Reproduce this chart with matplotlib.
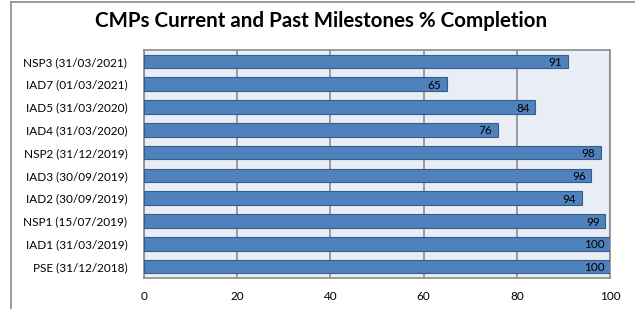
import numpy as np
import matplotlib
matplotlib.use('Agg')
import matplotlib.pyplot as plt
from matplotlib.lines import Line2D

# Milestones (bottom to top) and % completion
milestones = ['PSE (31/12/2018)', 'IAD1 (31/03/2019)', 'NSP1 (15/07/2019)',
              'IAD2 (30/09/2019)', 'IAD3 (30/09/2019)', 'NSP2 (31/12/2019)',
              'IAD4 (31/03/2020)', 'IAD5 (31/03/2020)', 'IAD7 (01/03/2021)',
              'NSP3 (31/03/2021)']
completion = [100, 100, 99, 94, 96, 98, 76, 84, 65, 91]
x_ticks = [0, 20, 40, 60, 80, 100]

plt.rcParams['font.family'] = ['Lato', 'DejaVu Sans']

fig = plt.figure(figsize=(6.35, 3.09), dpi=100)
ax = fig.add_axes([0.2268, 0.1003, 0.7339, 0.738])

y = np.arange(len(milestones))
ax.barh(y, completion, height=0.6, color='#4F81BD', edgecolor='#385D8A',
        linewidth=0.8, zorder=3)

for yi, v in zip(y, completion):
    ax.text(v - 1.2, yi - 0.05, str(v), ha='right', va='center',
            fontsize=8.5, color='black', zorder=4)

ax.set_xlim(0, 100)
ax.set_ylim(-0.5, len(milestones) - 0.5)
ax.set_xticks(x_ticks)
ax.set_xticklabels([str(t) for t in x_ticks], fontsize=8.5)
ax.set_yticks(y)
ax.set_yticklabels(milestones, fontsize=8.5)
ax.tick_params(axis='y', length=0, pad=12)
ax.tick_params(axis='x', length=0, pad=9)
ax.set_facecolor('#E9EDF5')
ax.grid(axis='x', color='#8C8C8C', linewidth=1.2, zorder=1)
for s in ax.spines.values():
    s.set_color('#8C8C8C')
    s.set_linewidth(1.2)

fig.text(0.506, 0.931, 'CMPs Current and Past Milestones % Completion',
         ha='center', va='center', fontsize=14.8, fontweight='bold')

# outer chart border (top and left visible)
fig.add_artist(Line2D([11 / 635, 1], [1 - 1.5 / 309, 1 - 1.5 / 309],
                      transform=fig.transFigure, color='#8C8C8C', linewidth=1.2))
fig.add_artist(Line2D([11 / 635, 11 / 635], [0, 1 - 1.5 / 309],
                      transform=fig.transFigure, color='#8C8C8C', linewidth=1.2))

fig.savefig('out.png', dpi=100)
